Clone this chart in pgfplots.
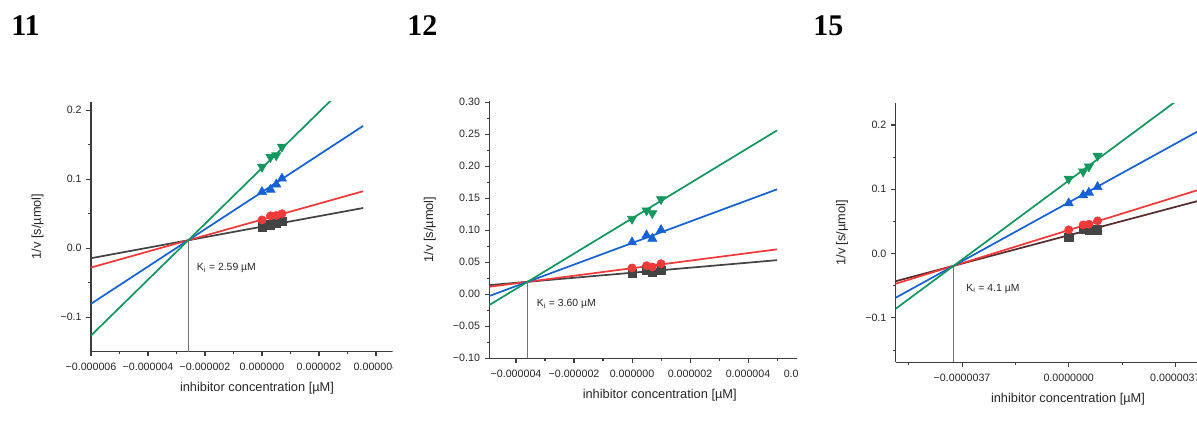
\documentclass[border=0pt]{standalone}
\usepackage{fontspec}
\setmainfont{Liberation Sans}
\newfontfamily\titlefont{Liberation Serif}
\usepackage{pgfplots}
\pgfplotsset{compat=1.18}
\definecolor{cgray}{RGB}{68,68,68}
\definecolor{cred}{RGB}{240,58,58}
\definecolor{cblue}{RGB}{22,98,210}
\definecolor{cgreen}{RGB}{20,150,95}
\definecolor{cbrown}{RGB}{88,44,44}
\definecolor{axgray}{RGB}{60,60,60}
\pgfplotsset{
  kin/.style={
    scale only axis,
    axis lines=left, axis line style={-, draw=axgray, line width=1pt},
    tick align=outside, tick style={draw=axgray, line width=0.8pt},
    major tick length=3.5pt, minor tick length=2pt,
    ticklabel style={font=\fontsize{8}{9}\selectfont, text=black!85},
    xticklabel shift=1.5pt,
    xlabel={inhibitor concentration [µM]},
    ylabel={1/v [s/µmol]},
    xlabel shift=2pt, ylabel shift=6pt,
    label style={font=\fontsize{9.6}{11}\selectfont, text=black!85},
    clip=true,
  },
  fit/.style={no marks, line width=1.3pt},
  pts/.style={only marks, mark size=3.1pt},
  tri/.style={only marks, mark=triangle*, mark size=4pt},
}
\begin{document}
\begin{tikzpicture}
\useasboundingbox (0,0) rectangle (897.75pt,325.5pt);
\clip (0,0) rectangle (897.75pt,325.5pt);
\node[anchor=base west, inner sep=0pt, font=\titlefont\bfseries\fontsize{22.5}{26}\selectfont] at (8.25pt,298.5pt) {11};
\node[anchor=base west, inner sep=0pt, font=\titlefont\bfseries\fontsize{22.5}{26}\selectfont] at (305.25pt,298.5pt) {12};
\node[anchor=base west, inner sep=0pt, font=\titlefont\bfseries\fontsize{22.5}{26}\selectfont] at (609.75pt,298.5pt) {15};
% ---------------- panel 11
\begin{scope}
\clip (0,0) rectangle (294.4pt,325.5pt);
\begin{axis}[kin, at={(68.25pt,61.73pt)}, anchor=south west,
  width=249pt, height=187.6pt,
  xmin=-6, xmax=5.65, ymin=-0.15, ymax=0.2126,
  xtick={-6,-4,-2,0,2,4},
  xticklabels={−0.000006,−0.000004,−0.000002,0.000000,0.000002,0.000004},
  minor xtick={-5,-3,-1,1,3,5},
  ytick={-0.1,0,0.1,0.2}, yticklabels={−0.1,0.0,0.1,0.2},
  minor ytick={-0.05,0.05,0.15},
]
\addplot[no marks, color=gray!90!black, line width=0.7pt] coordinates {(-2.59,-0.15) (-2.59,0.0115)};
\addplot[fit, cgray] coordinates {(-6,-0.0145) (3.55,0.0583)};
\addplot[fit, cred] coordinates {(-6,-0.028) (3.55,0.0826)};
\addplot[fit, cblue] coordinates {(-6,-0.0806) (3.55,0.1773)};
\addplot[fit, cgreen] coordinates {(-6,-0.1266) (3.55,0.260)};
\addplot[pts, mark=square*, cgray] coordinates {(0,0.031) (0.3,0.034) (0.5,0.0365) (0.7,0.039)};
\addplot[pts, mark=*, cred] coordinates {(0,0.041) (0.3,0.047) (0.5,0.0475) (0.7,0.050)};
\addplot[tri, cblue] coordinates {(0,0.0816) (0.3,0.085) (0.5,0.0925) (0.7,0.101)};
\addplot[tri, mark options={rotate=180}, cgreen] coordinates {(0,0.118) (0.3,0.132) (0.5,0.1345) (0.7,0.147)};
\node[anchor=west, inner sep=0pt, font=\fontsize{7.8}{9}\selectfont, text=black!85] at (axis cs:-2.29,-0.029) {K\textsubscript{i} = 2.59 µM};
\end{axis}
\end{scope}
% ---------------- panel 12
\begin{scope}
\clip (300pt,0) rectangle (597.75pt,325.5pt);
\begin{axis}[kin, at={(367pt,56.78pt)}, anchor=south west,
  width=255.6pt, height=193pt,
  xmin=-4.92, xmax=6.83, ymin=-0.1, ymax=0.302,
  xtick={-4,-2,0,2,4,6},
  xticklabels={−0.000004,−0.000002,0.000000,0.000002,0.000004,0.000006},
  minor xtick={-3,-1,1,3,5},
  ytick={-0.1,-0.05,0,0.05,0.1,0.15,0.2,0.25,0.3},
  yticklabels={−0.10,−0.05,0.00,0.05,0.10,0.15,0.20,0.25,0.30},
  minor ytick={-0.075,-0.025,0.025,0.075,0.125,0.175,0.225,0.275},
]
\addplot[no marks, color=gray!90!black, line width=0.7pt] coordinates {(-3.6,-0.1) (-3.6,0.0195)};
\addplot[fit, cgray] coordinates {(-4.92,0.0143) (5,0.0533)};
\addplot[fit, cred] coordinates {(-4.92,0.0117) (5,0.0702)};
\addplot[fit, cblue] coordinates {(-4.92,-0.0027) (5,0.164)};
\addplot[fit, cgreen] coordinates {(-4.92,-0.0168) (5,0.256)};
\addplot[pts, mark=square*, cgray] coordinates {(0,0.0328) (0.5,0.038) (0.7,0.0344) (1.0,0.038)};
\addplot[pts, mark=*, cred] coordinates {(0,0.0411) (0.5,0.0447) (0.7,0.0427) (1.0,0.0478)};
\addplot[tri, cblue] coordinates {(0,0.0812) (0.5,0.0922) (0.7,0.0869) (1.0,0.1005)};
\addplot[tri, mark options={rotate=180}, cgreen] coordinates {(0,0.1177) (0.5,0.1307) (0.7,0.1265) (1.0,0.1484)};
\node[anchor=west, inner sep=0pt, font=\fontsize{7.8}{9}\selectfont, text=black!85] at (axis cs:-3.29,-0.0156) {K\textsubscript{i} = 3.60 µM};
\end{axis}
\end{scope}
% ---------------- panel 15
\begin{scope}
\clip (600pt,0) rectangle (897.75pt,325.5pt);
\begin{axis}[kin, at={(671.8pt,53.8pt)}, anchor=south west,
  width=258.4pt, height=194.2pt,
  xmin=-6, xmax=5.95, ymin=-0.169, ymax=0.2337,
  xtick={-3.7,0,3.7},
  xticklabels={−0.0000037,0.0000000,0.0000037},
  minor xtick={-5.55,-1.85,1.85,5.55},
  ytick={-0.1,0,0.1,0.2}, yticklabels={−0.1,0.0,0.1,0.2},
  minor ytick={-0.15,-0.05,0.05,0.15},
]
\addplot[no marks, color=gray!90!black, line width=0.7pt] coordinates {(-3.99,-0.169) (-3.99,-0.019)};
\addplot[fit, cbrown] coordinates {(-6,-0.0429) (5,0.088)};
\addplot[fit, cred] coordinates {(-6,-0.0469) (5,0.106)};
\addplot[fit, cblue] coordinates {(-6,-0.0686) (5,0.203)};
\addplot[fit, cgreen] coordinates {(-6,-0.0857) (5,0.2795)};
\addplot[pts, mark=square*, cgray] coordinates {(0,0.0249) (0.5,0.0379) (0.7,0.0369) (1.0,0.0369)};
\addplot[pts, mark=*, cred] coordinates {(0,0.0369) (0.5,0.0446) (0.7,0.0457) (1.0,0.0509)};
\addplot[tri, cblue] coordinates {(0,0.0784) (0.5,0.0908) (0.7,0.0949) (1.0,0.1037)};
\addplot[tri, mark options={rotate=180}, cgreen] coordinates {(0,0.1162) (0.5,0.1275) (0.7,0.1353) (1.0,0.152)};
\node[anchor=west, inner sep=0pt, font=\fontsize{7.8}{9}\selectfont, text=black!85] at (axis cs:-3.56,-0.0544) {K\textsubscript{i} = 4.1 µM};
\end{axis}
\end{scope}
\end{tikzpicture}
\end{document}
